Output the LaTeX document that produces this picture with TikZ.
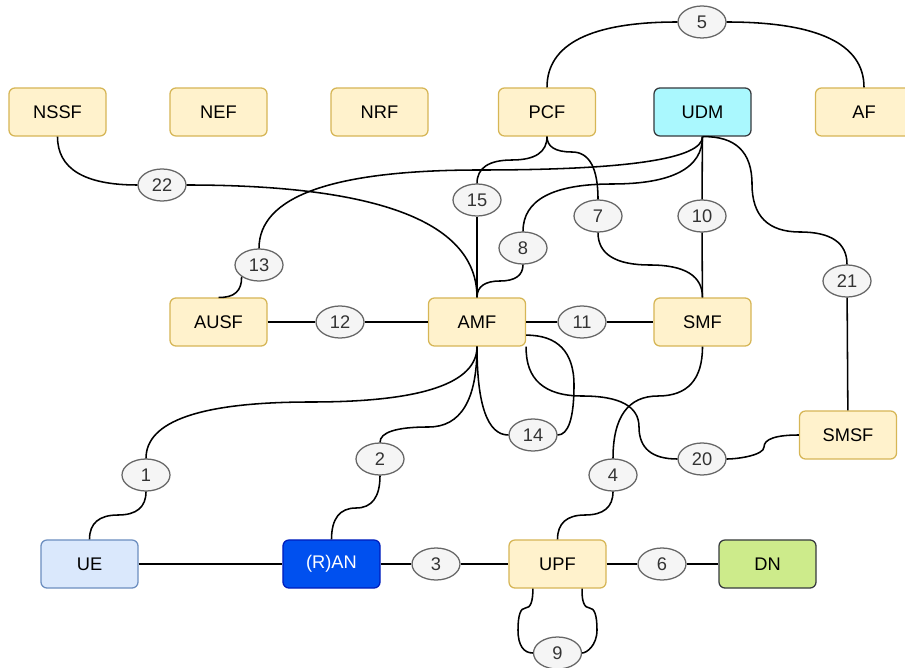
\documentclass[tikz,border=0pt]{standalone}
\usepackage{fontspec}
\setmainfont{Liberation Sans}
\usepackage{tikz}
\usetikzlibrary{shapes,arrows,positioning}

\definecolor{nfFill}{HTML}{FFF2CC}
\definecolor{nfLine}{HTML}{D6B656}
\definecolor{udmFill}{HTML}{AAF8FE}
\definecolor{darkLine}{HTML}{36393D}
\definecolor{ueFill}{HTML}{DAE8FC}
\definecolor{ueLine}{HTML}{6C8EBF}
\definecolor{ranFill}{HTML}{0050EF}
\definecolor{ranLine}{HTML}{001DBC}
\definecolor{dnFill}{HTML}{CDEB8B}
\definecolor{refFill}{HTML}{F5F5F5}
\definecolor{refLine}{HTML}{666666}
\definecolor{refText}{HTML}{333333}

\begin{document}
\begin{tikzpicture}[x=0.025cm,y=-0.025cm,
	font=\fontsize{13}{15}\selectfont,
	nf/.style={draw=nfLine,fill=nfFill,rounded corners=0.15cm,line width=0.9pt,minimum width=2.425cm,minimum height=1.2cm,inner sep=0pt},
	ref/.style={shape=ellipse,draw=refLine,fill=refFill,text=refText,line width=0.9pt,minimum width=1.2cm,minimum height=0.8cm,inner sep=0pt},
	link/.style={line width=1.1pt}]
	\useasboundingbox (0,0) rectangle (905,668);

	\node[nf] (NSSF) at (57.5,112) {NSSF};
	\node[nf] (NEF) at (218.5,112) {NEF};
	\node[nf] (NRF) at (379.5,112) {NRF};
	\node[nf] (PCF) at (547,112) {PCF};
	\node[nf,draw=darkLine,fill=udmFill] (UDM) at (702.5,112) {UDM};
	\node[nf] (AF) at (864,112) {AF};
	\node[nf] (AUSF) at (218.5,322) {AUSF};
	\node[nf] (AMF) at (477,322) {AMF};
	\node[nf] (SMF) at (702.5,322) {SMF};
	\node[nf] (SMSF) at (848,435) {SMSF};
	\node[nf,draw=ueLine,fill=ueFill] (UE) at (89.5,564) {UE};
	\node[nf,draw=ranLine,fill=ranFill,text=white] (RAN) at (331.5,564) {(R)AN};
	\node[nf] (UPF) at (557.5,564) {UPF};
	\node[nf,draw=darkLine,fill=dnFill] (DN) at (767.5,564) {DN};

	\node[ref] (5) at (702,22) {5};
	\node[ref] (22) at (162,185) {22};
	\node[ref] (15) at (477,200) {15};
	\node[ref] (7) at (598,216) {7};
	\node[ref] (10) at (702,216) {10};
	\node[ref] (8) at (523,248) {8};
	\node[ref] (13) at (259,265) {13};
	\node[ref] (21) at (847,281) {21};
	\node[ref] (12) at (340,322) {12};
	\node[ref] (11) at (582,322) {11};
	\node[ref] (14) at (533,435) {14};
	\node[ref] (20) at (702,459) {20};
	\node[ref] (1) at (146,475) {1};
	\node[ref] (2) at (380,459) {2};
	\node[ref] (4) at (613,475) {4};
	\node[ref] (3) at (436,564) {3};
	\node[ref] (6) at (662,564) {6};
	\node[ref] (9) at (557.5,653) {9};

	% top row
	\draw [link] (PCF.north) .. controls (547,44) and (591,22) .. (5.west);
	\draw [link] (5.east) .. controls (818,22) and (864,44) .. (AF.north);
	\draw [link] (NSSF.south) .. controls (57.5,168.7) and (84.3,185) .. (22.west);
	\draw [link] (22.east) .. controls (380,185) and (477,222.7) .. (AMF.north);
	\draw [link] (UDM.south) .. controls (702.5,158.7) and (628.3,170) .. (480,170)
		.. controls (332.7,170) and (259,196.3) .. (13.north);
	\draw [link] (13.south west) .. controls (242,290.8) and (234.2,298) .. (AUSF.north);
	\draw [link] (PCF.south) .. controls (547,152) and (535.3,160) .. (512,160)
		.. controls (488.7,160) and (477,168) .. (15.north);
	\draw [link] (PCF.south) .. controls (547,146.7) and (555.3,152) .. (572,152)
		.. controls (589.3,152) and (598,168) .. (7.north);
	\draw [link] (7.south) .. controls (598,254) and (615.3,265) .. (650,265)
		.. controls (685,265) and (702.5,276) .. (SMF.north);
	\draw [link] (UDM.south) .. controls (702.5,168) and (672.3,184) .. (612,184)
		.. controls (552.7,184) and (523,200) .. (8.north);
	\draw [link] (8.south) .. controls (523,275.3) and (515.3,281) .. (500,281)
		.. controls (484.7,281) and (477,286.7) .. (AMF.north);
	\draw [link] (UDM.south) .. controls (735.5,136) and (752,152) .. (752,184)
		.. controls (752,216) and (768,232) .. (800,232)
		.. controls (831.3,232) and (847,243) .. (21.north);
	\path [link] (15) edge (AMF);
	\path [link] (UDM) edge (10);
	\path [link] (10) edge (SMF);
	\path [link] (21) edge (SMSF);

	% middle row
	\path [link] (AUSF) edge (12);
	\path [link] (12) edge (AMF);
	\path [link] (AMF) edge (11);
	\path [link] (11) edge (SMF);
	\draw [link] (SMSF.west) .. controls (776,435) and (764,439) .. (764,447)
		.. controls (764,455) and (738.7,459) .. (20.east);
	\draw [link] (AMF.south east) .. controls (525.5,379.3) and (544.3,396) .. (582,396)
		.. controls (620,396) and (639,406.3) .. (639,427)
		.. controls (639,448.3) and (652,459) .. (20.west);
	\draw [link] (AMF.-15) .. controls (557.3,335) and (574,351.7) .. (574,385)
		.. controls (574,418.3) and (568.3,435) .. (14.east);
	\draw [link] (AMF.south) .. controls (477,405.3) and (487.7,435) .. (14.west);
	\draw [link] (AMF.south) .. controls (477,400) and (460.8,427) .. (428.5,427)
		.. controls (396.2,427) and (380,432.3) .. (2.north);
	\draw [link] (AMF.south) .. controls (477,383.3) and (421.7,402) .. (311,402)
		.. controls (201,402) and (146,421) .. (1.north);
	\draw [link] (SMF.south) .. controls (702.5,379.3) and (687.7,396) .. (658,396)
		.. controls (628,396) and (613,417) .. (4.north);

	% bottom row
	\draw [link] (1.south) .. controls (146,507) and (136.7,515) .. (118,515)
		.. controls (99,515) and (89.5,523.3) .. (UE.north);
	\draw [link] (2.south) .. controls (380,497) and (372,508) .. (356,508)
		.. controls (339.7,508) and (331.5,518.7) .. (RAN.north);
	\draw [link] (4.south) .. controls (613,507) and (603.7,515) .. (585,515)
		.. controls (566.7,515) and (557.5,523.3) .. (UPF.north);
	\path [link] (UE) edge (RAN);
	\path [link] (RAN) edge (3);
	\path [link] (3) edge (UPF);
	\path [link] (UPF) edge (6);
	\path [link] (6) edge (DN);
	\draw [link] (UPF.-135) .. controls (533,601.3) and (530.5,608) .. (525.5,608)
		.. controls (520.5,608) and (518,615.3) .. (518,630)
		.. controls (518,645.3) and (523.5,653) .. (9.west);
	\draw [link] (UPF.-45) .. controls (581.5,601.3) and (584.5,608) .. (589.5,608)
		.. controls (594.4,608) and (597,615.3) .. (597,630)
		.. controls (597,645.3) and (586.7,653) .. (9.east);
\end{tikzpicture}
\end{document}
